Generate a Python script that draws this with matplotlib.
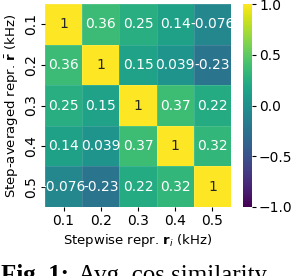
import matplotlib
matplotlib.use("Agg")
import matplotlib.pyplot as plt
import numpy as np
import seaborn as sns

labels = ["0.1", "0.2", "0.3", "0.4", "0.5"]
values = np.array([
    [1.0, 0.36, 0.25, 0.14, -0.076],
    [0.36, 1.0, 0.15, 0.039, -0.23],
    [0.25, 0.15, 1.0, 0.37, 0.22],
    [0.14, 0.039, 0.37, 1.0, 0.32],
    [-0.076, -0.23, 0.22, 0.32, 1.0],
])

plt.rcParams['font.family'] = ['DejaVu Sans']
plt.rcParams['mathtext.fontset'] = 'dejavusans'

W, H = 294, 276
fig = plt.figure(figsize=(W / 100, H / 100), dpi=100)
ax = fig.add_axes([45 / W, (H - 207) / H, 186 / W, 203 / H])
cax = fig.add_axes([243 / W, (H - 207) / H, 9 / W, 203 / H])

sns.heatmap(values, ax=ax, cbar_ax=cax, cmap="viridis", vmin=-1, vmax=1,
            annot=True, annot_kws={"fontsize": 10},
            xticklabels=labels, yticklabels=labels,
            linewidths=0.5, linecolor=(1, 1, 1, 0.12))

ax.tick_params(axis='both', labelsize=10, length=3, width=0.8, pad=2)
ax.set_yticklabels(labels, rotation=90, va='center')
ax.set_xticklabels(labels, rotation=0)
ax.set_xlabel(r"Stepwise repr. $\mathbf{r}_i$ (kHz)", fontsize=9.5, labelpad=3)
ax.set_ylabel(r"Step-averaged repr. $\bar{\mathbf{r}}$ (kHz)", fontsize=9.5, labelpad=2)

cax.tick_params(labelsize=10, length=3, width=0.8, pad=2)
cax.set_yticks([-1.0, -0.5, 0.0, 0.5, 1.0])
cax.set_yticklabels(["\u22121.0", "\u22120.5", "0.0", "0.5", "1.0"])

ybase = -6 / H
t1 = fig.text(1 / W, ybase, "Fig. 1:", fontsize=18, fontweight='bold',
              family='Liberation Serif', va='baseline', ha='left')
fig.canvas.draw()
bb = t1.get_window_extent(renderer=fig.canvas.get_renderer())
fig.text(bb.x1 / W + 9 / W, ybase, "Avg. cos similarity", fontsize=18,
         family='Liberation Serif', va='baseline', ha='left')

fig.savefig("out.png", dpi=100)
